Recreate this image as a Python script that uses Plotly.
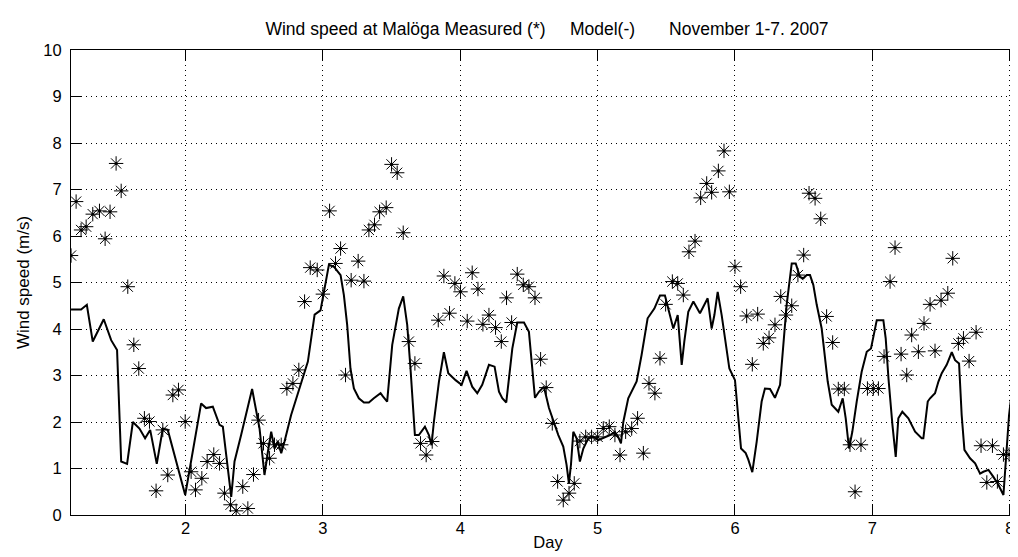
import plotly.graph_objects as go

# Measured wind speed (hourly stars)
meas_day = [1.167, 1.204, 1.240, 1.277, 1.325, 1.374, 1.415, 1.451, 1.495, 1.532,
            1.580, 1.624, 1.660, 1.701, 1.738, 1.786, 1.835, 1.871, 1.908, 1.949,
            1.998, 2.041, 2.073, 2.119, 2.158, 2.206, 2.248, 2.284, 2.328, 2.369,
            2.417, 2.454, 2.495, 2.532, 2.568, 2.612, 2.648, 2.697, 2.738, 2.782,
            2.825, 2.867, 2.908, 2.959, 3.000, 3.049, 3.092, 3.129, 3.165, 3.206,
            3.257, 3.299, 3.335, 3.376, 3.413, 3.461, 3.500, 3.541, 3.585, 3.626,
            3.670, 3.711, 3.752, 3.796, 3.840, 3.881, 3.922, 3.961, 4.002, 4.051,
            4.087, 4.129, 4.165, 4.209, 4.257, 4.299, 4.337, 4.374, 4.415, 4.459,
            4.500, 4.544, 4.585, 4.626, 4.670, 4.709, 4.750, 4.792, 4.830, 4.871,
            4.913, 4.956, 5.000, 5.041, 5.085, 5.126, 5.163, 5.204, 5.248, 5.291,
            5.333, 5.374, 5.417, 5.454, 5.495, 5.544, 5.583, 5.624, 5.665, 5.709,
            5.750, 5.794, 5.830, 5.879, 5.920, 5.959, 6.000, 6.041, 6.085, 6.126,
            6.165, 6.206, 6.248, 6.291, 6.333, 6.371, 6.413, 6.458, 6.500, 6.539,
            6.583, 6.624, 6.667, 6.711, 6.752, 6.796, 6.837, 6.874, 6.917, 6.964,
            7.007, 7.044, 7.085, 7.129, 7.165, 7.209, 7.250, 7.286, 7.335, 7.376,
            7.420, 7.456, 7.500, 7.549, 7.585, 7.626, 7.663, 7.704, 7.755, 7.791,
            7.833, 7.874, 7.910, 7.954, 7.995, 8.046, 8.087]
meas_speed = [5.58, 6.74, 6.13, 6.20, 6.47, 6.54, 5.94, 6.52, 7.56, 6.97,
              4.91, 3.66, 3.15, 2.08, 2.01, 0.52, 1.83, 0.86, 2.58, 2.69,
              2.01, 0.93, 0.54, 0.79, 1.15, 1.30, 1.11, 0.47, 0.22, 0.09,
              0.61, 0.14, 0.87, 2.04, 1.54, 1.22, 1.51, 1.51, 2.72, 2.83,
              3.12, 4.59, 5.32, 5.27, 4.75, 6.54, 5.41, 5.73, 3.01, 5.05,
              5.46, 5.03, 6.13, 6.24, 6.52, 6.61, 7.54, 7.36, 6.07, 3.73,
              3.26, 1.54, 1.29, 1.58, 4.19, 5.14, 4.34, 4.98, 4.80, 4.17,
              5.21, 4.86, 4.10, 4.30, 4.03, 3.73, 4.67, 4.14, 5.18, 4.95,
              4.91, 4.67, 3.35, 2.74, 1.97, 0.72, 0.32, 0.47, 0.68, 1.59,
              1.68, 1.68, 1.68, 1.86, 1.90, 1.72, 1.29, 1.79, 1.86, 2.08,
              1.33, 2.83, 2.62, 3.37, 4.53, 5.02, 4.98, 4.73, 5.66, 5.89,
              6.82, 7.13, 6.94, 7.40, 7.83, 6.95, 5.34, 4.91, 4.28, 3.24,
              4.32, 3.69, 3.81, 4.09, 4.70, 4.30, 4.50, 5.16, 5.59, 6.92,
              6.81, 6.37, 4.27, 3.71, 2.71, 2.71, 1.51, 0.50, 1.51, 2.72,
              2.72, 2.72, 3.41, 5.02, 5.75, 3.46, 3.01, 3.87, 3.51, 4.12,
              4.53, 3.53, 4.62, 4.77, 5.52, 3.69, 3.80, 3.31, 3.93, 1.49,
              0.70, 1.49, 0.72, 1.30, 1.30, 0.82, 0.79]

# Model wind speed (line)
model_day = [1.167, 1.240, 1.282, 1.325, 1.405, 1.459, 1.502, 1.532, 1.575, 1.617,
             1.665, 1.706, 1.743, 1.791, 1.835, 1.871, 1.998, 2.066, 2.114, 2.150,
             2.199, 2.248, 2.272, 2.333, 2.357, 2.405, 2.485, 2.539, 2.575, 2.600,
             2.624, 2.648, 2.672, 2.697, 2.721, 2.769, 2.842, 2.891, 2.940, 2.983,
             3.044, 3.080, 3.129, 3.153, 3.177, 3.201, 3.226, 3.262, 3.299, 3.335,
             3.371, 3.420, 3.437, 3.468, 3.505, 3.553, 3.585, 3.614, 3.638, 3.670,
             3.699, 3.743, 3.772, 3.791, 3.808, 3.845, 3.881, 3.913, 3.966, 4.010,
             4.046, 4.087, 4.124, 4.160, 4.209, 4.250, 4.282, 4.306, 4.335, 4.379,
             4.415, 4.464, 4.500, 4.524, 4.544, 4.573, 4.609, 4.646, 4.682, 4.714,
             4.750, 4.774, 4.791, 4.806, 4.823, 4.847, 4.871, 4.896, 4.932, 4.968,
             5.005, 5.041, 5.090, 5.126, 5.150, 5.170, 5.187, 5.223, 5.284, 5.320,
             5.364, 5.413, 5.454, 5.490, 5.515, 5.551, 5.583, 5.612, 5.631, 5.660,
             5.697, 5.745, 5.801, 5.830, 5.850, 5.874, 5.903, 5.939, 5.959, 6.000,
             6.019, 6.044, 6.078, 6.097, 6.126, 6.158, 6.194, 6.218, 6.255, 6.291,
             6.328, 6.352, 6.376, 6.413, 6.442, 6.473, 6.498, 6.522, 6.546, 6.570,
             6.595, 6.631, 6.655, 6.675, 6.704, 6.728, 6.752, 6.784, 6.806, 6.830,
             6.854, 6.886, 6.922, 6.959, 6.990, 7.032, 7.080, 7.097, 7.117, 7.146,
             7.170, 7.189, 7.218, 7.262, 7.311, 7.359, 7.371, 7.403, 7.420, 7.456,
             7.481, 7.505, 7.541, 7.578, 7.602, 7.631, 7.650, 7.670, 7.711, 7.748,
             7.784, 7.808, 7.845, 7.881, 7.917, 7.954, 7.978, 7.995, 8.015, 8.051,
             8.087, 8.121]
model_speed = [4.42, 4.42, 4.52, 3.73, 4.21, 3.76, 3.55, 1.15, 1.10, 2.00,
               1.86, 1.65, 1.83, 1.10, 1.86, 1.83, 0.43, 1.58, 2.40, 2.30,
               2.33, 1.94, 1.90, 0.39, 1.15, 1.72, 2.71, 1.86, 0.86, 1.36,
               1.79, 1.43, 1.58, 1.33, 1.58, 2.15, 2.87, 3.30, 4.31, 4.40,
               5.38, 5.34, 5.16, 4.73, 4.09, 3.15, 2.72, 2.51, 2.42, 2.42,
               2.51, 2.62, 2.55, 2.44, 3.66, 4.44, 4.70, 4.09, 3.15, 1.72,
               1.72, 1.90, 1.72, 1.50, 2.00, 2.87, 3.50, 3.05, 2.90, 2.80,
               3.10, 2.76, 2.62, 2.80, 3.23, 3.19, 2.65, 2.51, 2.42, 3.58,
               4.14, 4.14, 3.94, 3.15, 2.52, 2.65, 2.76, 2.30, 2.00, 1.72,
               1.47, 1.08, 0.68, 1.08, 1.79, 1.65, 1.15, 1.43, 1.65, 1.68,
               1.61, 1.65, 1.72, 1.79, 1.68, 1.54, 2.00, 2.51, 2.87, 3.44,
               4.23, 4.44, 4.72, 4.72, 4.44, 4.01, 4.30, 3.23, 3.73, 4.37,
               4.59, 4.34, 4.66, 4.01, 4.30, 4.80, 4.30, 3.51, 3.15, 2.90,
               2.22, 1.43, 1.33, 1.19, 0.92, 1.58, 2.44, 2.72, 2.71, 2.52,
               2.80, 3.58, 4.52, 5.41, 5.41, 5.12, 5.09, 5.16, 5.16, 4.95,
               4.52, 4.01, 3.37, 2.87, 2.37, 2.29, 2.22, 2.51, 2.08, 1.43,
               1.79, 2.44, 3.08, 3.51, 3.58, 4.19, 4.19, 3.80, 2.94, 1.94,
               1.25, 2.08, 2.22, 2.08, 1.79, 1.65, 1.65, 2.44, 2.51, 2.62,
               2.87, 3.05, 3.23, 3.50, 3.33, 3.26, 2.15, 1.40, 1.22, 1.11,
               0.89, 0.93, 0.97, 0.82, 0.65, 0.43, 1.43, 2.15, 2.65, 3.01,
               2.90, 2.51]

x_ticks = [2, 3, 4, 5, 6, 7, 8]
y_ticks = [0, 1, 2, 3, 4, 5, 6, 7, 8, 9, 10]

title_text = "Wind speed at Malöga Measured (*)     Model(-)       November 1-7. 2007"

FONT = "Liberation Sans, Arial, sans-serif"

fig = go.Figure()
fig.add_trace(go.Scatter(
    x=model_day, y=model_speed, mode="lines",
    line=dict(color="black", width=2), showlegend=False, hoverinfo="skip"))
fig.add_trace(go.Scatter(
    x=meas_day, y=meas_speed, mode="markers",
    marker=dict(symbol="asterisk-open", size=12, color="black",
                line=dict(color="black", width=1)),
    showlegend=False))
fig.add_trace(go.Scatter(
    x=meas_day, y=meas_speed, mode="markers",
    marker=dict(symbol="circle", size=3, color="black"),
    showlegend=False, hoverinfo="skip"))

axis_common = dict(
    showline=True, linecolor="black", linewidth=1, mirror="ticks",
    ticks="inside", ticklen=11, tickcolor="black", tickwidth=1,
    showgrid=True, gridcolor="black", gridwidth=1, griddash="1px,4px",
    zeroline=False, tickfont=dict(family=FONT, size=16.5, color="black"),
)

fig.update_xaxes(range=[1.1667, 8.111], tickvals=x_ticks,
                 ticktext=[str(v) for v in x_ticks], ticklabelstandoff=-2,
                 title=dict(text="Day", font=dict(family=FONT, size=16.5, color="black"),
                            standoff=0),
                 **axis_common)
fig.update_yaxes(range=[0, 10], tickvals=y_ticks,
                 ticktext=[str(v) for v in y_ticks], ticklabelstandoff=5,
                 title=dict(text="Wind speed (m/s)",
                            font=dict(family=FONT, size=17, color="black"),
                            standoff=9),
                 **axis_common)

fig.update_layout(
    width=1018, height=557,
    margin=dict(l=63, r=1, t=42, b=50),
    paper_bgcolor="white", plot_bgcolor="white",
    title=dict(text=title_text, x=0.5295, xanchor="center", y=0.962, yanchor="middle",
               font=dict(family=FONT, size=17.5, color="black")),
)

fig.write_html("out.html")
